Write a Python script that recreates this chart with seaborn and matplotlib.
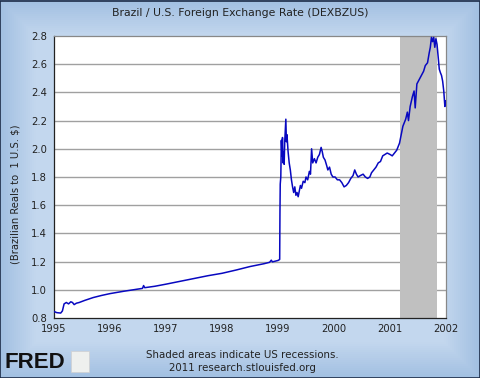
import numpy as np
import pandas as pd
import matplotlib
matplotlib.use("Agg")
import matplotlib.pyplot as plt
import seaborn as sns
from matplotlib.colors import LinearSegmentedColormap
from matplotlib.patches import Rectangle

# ---- data (decimal year, BRL per USD) ----
years = [1995.00, 1995.05, 1995.12, 1995.15, 1995.18, 1995.22, 1995.26, 1995.30, 1995.33,
         1995.36, 1995.40, 1995.45, 1995.55, 1995.70, 1995.85, 1996.00, 1996.25, 1996.50,
         1996.58, 1996.60, 1996.62, 1996.80, 1997.00, 1997.25, 1997.50, 1997.75, 1998.00,
         1998.25, 1998.50, 1998.75, 1998.85, 1998.88, 1998.90, 1999.00, 1999.03, 1999.035,
         1999.04, 1999.05, 1999.06, 1999.07, 1999.08, 1999.09, 1999.10, 1999.11, 1999.12,
         1999.14, 1999.15, 1999.16, 1999.18, 1999.20, 1999.22, 1999.24, 1999.26, 1999.28,
         1999.30, 1999.32, 1999.34, 1999.36, 1999.38, 1999.40, 1999.42, 1999.45, 1999.48,
         1999.50, 1999.53, 1999.56, 1999.58, 1999.60, 1999.62, 1999.65, 1999.68, 1999.71,
         1999.74, 1999.77, 1999.79, 1999.81, 1999.84, 1999.87, 1999.89, 1999.92, 1999.95,
         1999.98, 2000.02, 2000.06, 2000.10, 2000.14, 2000.18, 2000.22, 2000.26, 2000.30,
         2000.34, 2000.37, 2000.40, 2000.43, 2000.47, 2000.52, 2000.56, 2000.60, 2000.64,
         2000.67, 2000.71, 2000.75, 2000.79, 2000.83, 2000.87, 2000.91, 2000.95, 2001.00,
         2001.04, 2001.08, 2001.12, 2001.17, 2001.20, 2001.23, 2001.28, 2001.31, 2001.33,
         2001.36, 2001.40, 2001.43, 2001.45, 2001.48, 2001.52, 2001.56, 2001.60, 2001.63,
         2001.67, 2001.70, 2001.72, 2001.74, 2001.76, 2001.78, 2001.80, 2001.82, 2001.84,
         2001.86, 2001.88, 2001.90, 2001.92, 2001.94, 2001.96, 2001.97, 2001.98, 2001.99,
         2002.00]
rates = [0.846, 0.838, 0.835, 0.850, 0.900, 0.910, 0.900, 0.915, 0.910,
         0.895, 0.905, 0.910, 0.925, 0.945, 0.960, 0.973, 0.990, 1.005,
         1.010, 1.030, 1.015, 1.025, 1.040, 1.060, 1.080, 1.100, 1.117,
         1.140, 1.165, 1.185, 1.195, 1.210, 1.198, 1.208, 1.215, 1.550,
         1.750, 1.800, 2.060, 1.950, 2.080, 1.900, 1.980, 1.890, 2.050,
         2.210, 2.050, 2.100, 1.980, 1.900, 1.850, 1.780, 1.730, 1.690,
         1.730, 1.670, 1.690, 1.660, 1.700, 1.740, 1.720, 1.770, 1.760,
         1.800, 1.780, 1.840, 1.820, 2.000, 1.900, 1.930, 1.900, 1.940,
         1.960, 2.010, 1.980, 1.940, 1.920, 1.880, 1.850, 1.870, 1.820,
         1.800, 1.800, 1.780, 1.780, 1.760, 1.730, 1.740, 1.760, 1.790,
         1.810, 1.850, 1.820, 1.800, 1.810, 1.820, 1.800, 1.790, 1.800,
         1.830, 1.850, 1.870, 1.900, 1.910, 1.950, 1.960, 1.970, 1.960,
         1.950, 1.970, 1.990, 2.040, 2.100, 2.160, 2.210, 2.260, 2.200,
         2.300, 2.370, 2.410, 2.290, 2.460, 2.490, 2.520, 2.550, 2.590,
         2.610, 2.680, 2.720, 2.790, 2.760, 2.790, 2.720, 2.780, 2.740,
         2.650, 2.565, 2.540, 2.520, 2.480, 2.410, 2.350, 2.300, 2.340,
         2.320]
recession_start = 2001.17
recession_end = 2001.84
x_ticks = [1995, 1996, 1997, 1998, 1999, 2000, 2001, 2002]
y_ticks = [0.8, 1.0, 1.2, 1.4, 1.6, 1.8, 2.0, 2.2, 2.4, 2.6, 2.8]

df = pd.DataFrame({"year": years, "rate": rates})

sns.set_theme(style="white")
plt.rcParams["font.family"] = ["DejaVu Sans"]

fig = plt.figure(figsize=(4.8, 3.78), dpi=100)

# background gradient
bg = fig.add_axes([0, 0, 1, 1], zorder=-10)
nx, ny = 240, 189
gx = np.linspace(0, 1, nx)
gy = np.linspace(0, 1, ny)
dx = np.minimum(gx, 1 - gx)[None, :] * 4.8
dy = np.minimum(gy, 1 - gy)[:, None] * 3.78
d = np.clip(np.minimum(dx, dy) / 0.35, 0, 1)
cmap = LinearSegmentedColormap.from_list("bgc", ["#a2c0e2", "#c3d7ee"])
bg.imshow(d, cmap=cmap, aspect="auto", extent=[0, 1, 0, 1], vmin=0, vmax=1)
bg.set_xlim(0, 1); bg.set_ylim(0, 1)
bg.axis("off")
bg.add_patch(Rectangle((0.001, 0.001), 0.998, 0.997, fill=False, edgecolor="#1c2c48",
                       linewidth=1.2, transform=bg.transAxes))

ax = fig.add_axes([54/480, 1-318/378, 392/480, 282/378])
ax.set_facecolor("white")
ax.axvspan(recession_start, recession_end, color="#c0c0c0", lw=0, zorder=1)
for yv in y_ticks[1:-1]:
    ax.axhline(yv, color="#a0a0a0", lw=1.0, zorder=0.5)
sns.lineplot(data=df, x="year", y="rate", ax=ax, color="#0808c0", lw=1.1, zorder=3)

ax.set_xlim(1995, 2002)
ax.set_ylim(0.8, 2.8)
ax.set_xticks(x_ticks)
ax.set_xticklabels([str(t) for t in x_ticks])
ax.set_yticks(y_ticks)
ax.set_yticklabels([f"{t:.1f}" for t in y_ticks])
ax.tick_params(axis="x", direction="in", length=5, width=1, color="#222222",
               labelsize=7.2, pad=4, labelcolor="#222222")
ax.tick_params(axis="y", direction="out", length=0, labelsize=7.2, pad=5,
               labelcolor="#222222")
ax.set_xlabel("")
ax.set_ylabel("")
for side, sp in ax.spines.items():
    sp.set_visible(True)
    sp.set_linewidth(0.9)
    sp.set_color("#888888" if side in ("top", "right") else "#222222")

fig.text(240/480, 1-13/378, "Brazil / U.S. Foreign Exchange Rate (DEXBZUS)",
         ha="center", va="center", fontsize=7.8, color="#222222")
fig.text(16/480, 1-194/378, "(Brazilian Reals to  1 U.S. $)", rotation=90,
         ha="center", va="center", fontsize=7.2, color="#222222")
fig.text(242/480, 1-355/378, "Shaded areas indicate US recessions.",
         ha="center", va="center", fontsize=7.4, color="#222222")
fig.text(242/480, 1-368/378, "2011 research.stlouisfed.org",
         ha="center", va="center", fontsize=7.4, color="#222222")
fig.text(5/480, 1-363/378, "FRED", ha="left", va="center", fontsize=16,
         fontweight="heavy", color="#111111", family=["Liberation Sans", "DejaVu Sans"])
bg.add_patch(Rectangle((71/480, 1-372/378), 18/480, 21/378, facecolor="#eef0ee",
                       edgecolor="#d0d0d0", lw=0.5, transform=bg.transAxes))

fig.savefig("out.png", dpi=100)
